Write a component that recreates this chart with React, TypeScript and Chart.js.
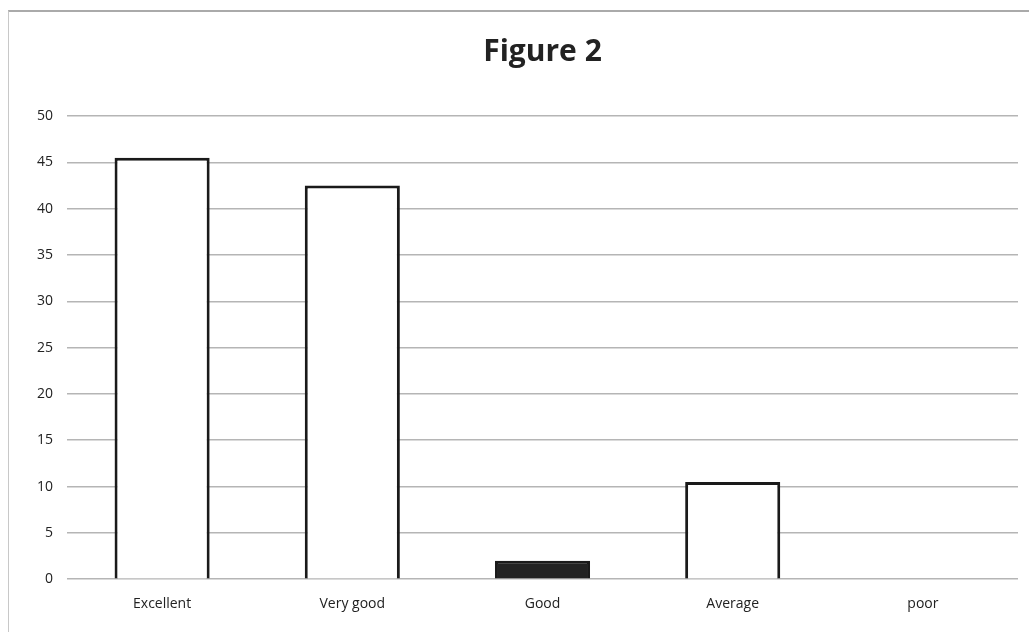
import React, { useEffect, useRef } from "react";
import { Chart, registerables } from "chart.js";

Chart.register(...registerables);

const categories = ["Excellent", "Very good", "Good", "Average", "poor"];
const values = [45.5, 42.5, 2, 10.5, 0];
const fillColors = ["#ffffff", "#ffffff", "#222222", "#ffffff", "#ffffff"];
const yTicks = [0, 5, 10, 15, 20, 25, 30, 35, 40, 45, 50];
const titleText = "Figure 2";

export default function App() {
  const ref = useRef<HTMLCanvasElement | null>(null);
  useEffect(() => {
    document.body.style.margin = "0";
    const ctx = ref.current!;
    const chart = new Chart(ctx, {
      type: "bar",
      data: {
        labels: categories,
        datasets: [
          {
            data: values,
            backgroundColor: fillColors,
            borderColor: "#1a1a1a",
            borderWidth: 3,
            barPercentage: 0.5,
            categoryPercentage: 1,
          },
        ],
      },
      options: {
        animation: false,
        responsive: false,
        maintainAspectRatio: false,
        layout: { padding: { left: 23, right: 12, top: 10, bottom: 17 } },
        plugins: {
          legend: { display: false },
          tooltip: { enabled: false },
          title: {
            display: true,
            fullSize: false,
            text: titleText,
            color: "#222",
            font: { family: "Open Sans", size: 30, weight: "bold" },
            padding: { top: 24, bottom: 46 },
          },
        },
        scales: {
          x: {
            grid: { display: false },
            border: { display: false },
            ticks: {
              color: "#222",
              font: { family: "Open Sans", size: 14 },
              padding: 8,
            },
          },
          y: {
            min: 0,
            max: 50,
            afterBuildTicks: (axis: any) => {
              axis.ticks = yTicks.map((v) => ({ value: v }));
            },
            grid: { color: "#b5b5b5", lineWidth: 1.5, drawTicks: false },
            border: { display: false },
            ticks: {
              color: "#222",
              font: { family: "Open Sans", size: 14 },
              padding: 14,
            },
          },
        },
      },
    });
    return () => chart.destroy();
  }, []);
  return (
    <div style={{ position: "relative", width: 1030, height: 637, background: "#fff" }}>
      <div
        style={{
          position: "absolute",
          left: 8,
          top: 10,
          width: 1020,
          height: 620,
          borderLeft: "1px solid #c8c8c8",
          borderTop: "2px solid #aaa",
        }}
      />
      <canvas ref={ref} width={1030} height={637} style={{ position: "absolute", left: 0, top: 0 }} />
    </div>
  );
}
